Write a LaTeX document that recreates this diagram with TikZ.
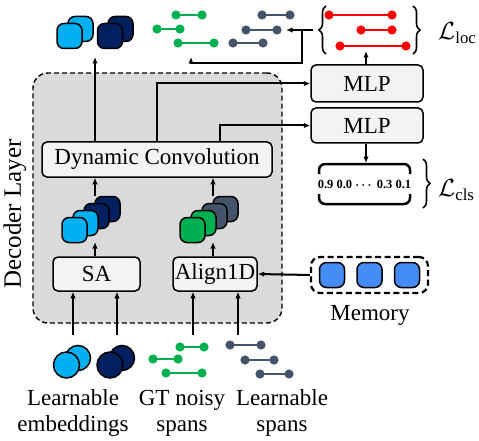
\documentclass[tikz,border=0pt]{standalone}
\usepackage{fontspec}
\usepackage{amsmath}
\setmainfont{Liberation Serif}
\usetikzlibrary{arrows.meta,decorations.pathreplacing,calc}
\definecolor{lblue}{HTML}{00B0F0}
\definecolor{navy}{HTML}{002060}
\definecolor{sgreen}{HTML}{00B050}
\definecolor{slate}{HTML}{44546A}
\definecolor{memblue}{RGB}{70,140,245}
\definecolor{layergray}{HTML}{DADADA}
\definecolor{boxfill}{HTML}{F3F3F3}
\newcommand\myspan[4]{%
  \draw[#1, line width=2.8pt] (#2,#4) -- (#3,#4);
  \fill[#1] (#2,#4) circle (4.6pt) (#3,#4) circle (4.6pt);}
\tikzset{
  txt/.style={font=\fontsize{23}{26}\selectfont, inner sep=0pt},
  blk/.style={draw, line width=1.5pt, rounded corners=5pt, fill=boxfill,
    inner sep=0pt, font=\fontsize{23}{26}\selectfont},
  sq/.style={draw, line width=1.5pt, rounded corners=7pt, minimum size=25pt, inner sep=0pt},
  circ/.style={draw, line width=1.5pt, circle, minimum size=25pt, inner sep=0pt},
  arr/.style={line width=2pt, -{Latex[length=6.5pt,width=5.5pt]}},
  brc/.style={decorate, decoration={brace, amplitude=7pt}, line width=1.6pt},
}
\begin{document}
\begin{tikzpicture}[x=1pt,y=-1pt]
\useasboundingbox (0,0) rectangle (479,441);

% decoder layer
\node[draw, dash pattern=on 5pt off 3pt, line width=1.4pt, rounded corners=15pt,
  fill=layergray, minimum width=249pt, minimum height=250pt, inner sep=0pt] (dec) at (157.5,198) {};
\node[txt, rotate=90, font=\fontsize{25}{28}\selectfont] (declab) at (15,214) {Decoder Layer};

% blocks
\node[blk, minimum width=230pt, minimum height=35pt] (dc) at (157,159.5) {Dynamic Convolution};
\node[blk, minimum width=87pt, minimum height=34pt] (sa) at (96.5,274) {SA};
\node[blk, minimum width=84pt, minimum height=34pt] (al) at (215,274) {Align1D};
\node[blk, minimum width=112pt, minimum height=37pt] (mlp1) at (367,83.5) {MLP};
\node[blk, minimum width=112pt, minimum height=35pt] (mlp2) at (367,125.5) {MLP};

% top squares
\node[sq, fill=lblue] (t1b) at (80.5,29) {};
\node[sq, fill=lblue] (t1f) at (69.5,36) {};
\node[sq, fill=navy] (t2b) at (120.5,29) {};
\node[sq, fill=navy] (t2f) at (110,36) {};
\coordinate (topsq) at (95,57);

% SA stack
\node[sq, fill=navy] (s4) at (107.5,209) {};
\node[sq, fill=navy] (s3) at (96.5,216) {};
\node[sq, fill=lblue] (s2) at (85.5,223) {};
\node[sq, fill=lblue] (s1) at (74.5,230) {};
% Align stack
\node[sq, fill=slate] (g4) at (225.5,209) {};
\node[sq, fill=slate] (g3) at (214.5,216) {};
\node[sq, fill=sgreen] (g2) at (203.5,223) {};
\node[sq, fill=sgreen] (g1) at (192.5,230) {};

% top spans
\myspan{sgreen}{176}{202}{15}
\myspan{sgreen}{157}{180}{29}
\myspan{sgreen}{178}{214}{43}
\myspan{slate}{262}{290}{15}
\myspan{slate}{246}{277}{30}
\myspan{slate}{233}{263}{43}
\coordinate (gspan) at (191,57);
\coordinate (sspan) at (286,30);

% red spans
\myspan{red}{329}{392}{15}
\myspan{red}{361}{392}{30}
\myspan{red}{340}{406}{46}
\coordinate (redsp) at (366,51);
\draw[brc] (326,54) -- (326,6);
\coordinate (lbr) at (313,30);
\draw[brc] (413,6) -- (413,54);
\node[txt, font=\fontsize{24}{26}\selectfont, anchor=west] (lloc) at (438,33) {$\mathcal{L}_{\text{loc}}$};

% cls box
\draw[line width=2.5pt, rounded corners=6pt] (319,174) -- (319,164) -- (410,164) -- (410,174);
\draw[line width=2.5pt, rounded corners=6pt] (319,194) -- (319,204) -- (410,204) -- (410,194);
\node[inner sep=0pt, font=\bfseries\boldmath\fontsize{12.5}{14}\selectfont] (cls) at (364.5,184) {0.9 0.0 $\cdots$ 0.3 0.1};
\coordinate (clstop) at (366,163);
\draw[brc] (423,159) -- (423,208);
\node[txt, font=\fontsize{24}{26}\selectfont, anchor=west] (lcls) at (438,190) {$\mathcal{L}_{\text{cls}}$};

% memory
\node[draw, line width=2.2pt, dash pattern=on 6pt off 3.5pt, rounded corners=9pt,
  minimum width=117pt, minimum height=36pt, inner sep=0pt] (mem) at (369.5,275) {};
\node[sq, fill=memblue] (m1) at (332,275) {};
\node[sq, fill=memblue] (m2) at (369.5,275) {};
\node[sq, fill=memblue] (m3) at (407,275) {};
\node[txt] (memlab) at (370,315) {Memory};

% bottom inputs
\node[circ, fill=lblue, minimum size=25pt] (c1b) at (78,358) {};
\node[circ, fill=lblue, minimum size=26pt] (c1f) at (66.5,365) {};
\node[circ, fill=navy, minimum size=25pt] (c2b) at (122,358) {};
\node[circ, fill=navy, minimum size=26pt] (c2f) at (110,365) {};
\myspan{sgreen}{180}{204}{347}
\myspan{sgreen}{153}{178}{359}
\myspan{sgreen}{166}{202}{373}
\myspan{slate}{230}{261}{345}
\myspan{slate}{245}{274}{360}
\myspan{slate}{260}{289}{374}
\coordinate (in1) at (73,335);
\coordinate (in2) at (117,335);
\coordinate (in3) at (193,335);
\coordinate (in4) at (238,335);

\node[txt, align=center] (lab1) at (73,413) {Learnable\\embeddings};
\node[txt, align=center] (lab2) at (182,413) {GT noisy\\spans};
\node[txt, align=center] (lab3) at (282,413) {Learnable\\spans};

% connectors
\draw[arr] (in1) -- (in1 |- sa.south);
\draw[arr] (in2) -- (in2 |- sa.south);
\draw[arr] (in3) -- (in3 |- al.south);
\draw[arr] (in4) -- (in4 |- al.south);
\draw[arr] (95,0 |- sa.north) -- (95,242);
\draw[arr] (95,196) -- (95,0 |- dc.south);
\draw[arr] (213,0 |- al.north) -- (213,242);
\draw[arr] (213,196) -- (213,0 |- dc.south);
\draw[arr] (mem.west) -- (al.east);
\draw[arr] (topsq |- dc.north) -- (topsq);
\draw[arr] (157,0 |- dc.north) -- (157,0 |- mlp1.west) -- (mlp1.west);
\draw[arr] (220,0 |- dc.north) -- (220,0 |- mlp2.west) -- (mlp2.west);
\draw[arr] (redsp |- mlp1.north) -- (redsp);
\draw[arr] (clstop |- mlp2.south) -- (clstop);
\draw[arr] (lbr) -- (sspan);
\draw[arr] (302,30) -- (302,63) -- (191,63) -- (gspan);
\end{tikzpicture}
\end{document}
